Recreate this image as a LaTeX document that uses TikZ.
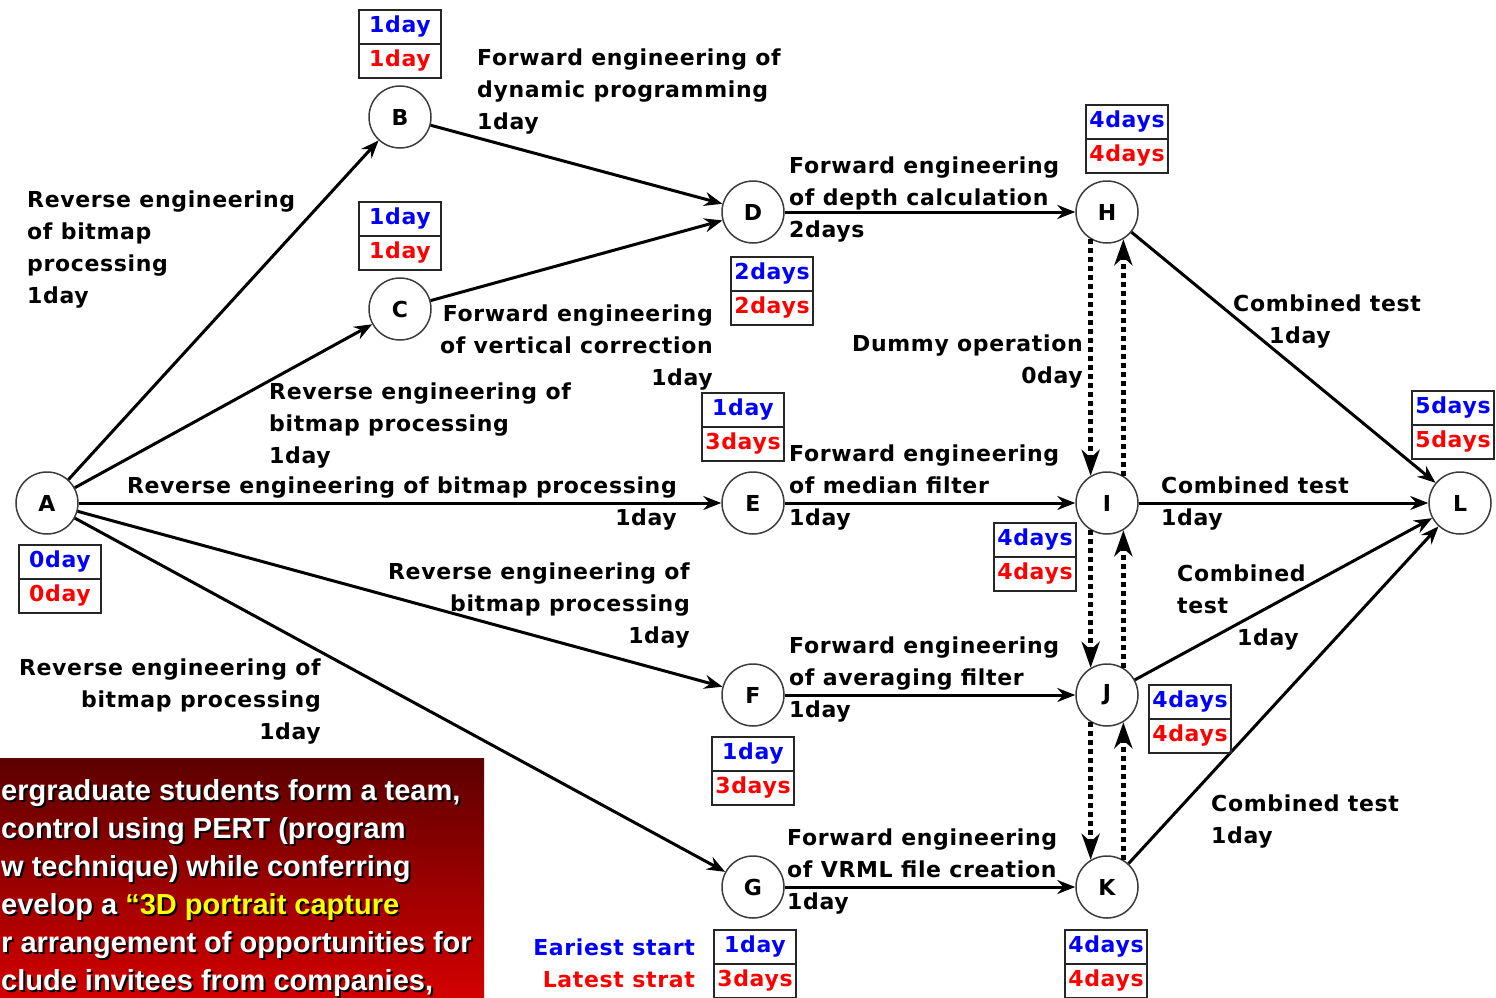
\documentclass[tikz,border=0pt]{standalone}
\usepackage{fontspec}
\usetikzlibrary{arrows.meta}
\newfontfamily\dfont{DejaVu Sans}[LetterSpace=3.0]
\newfontfamily\rfont{Liberation Sans}
\definecolor{eblue}{RGB}{0,0,255}
\definecolor{lred}{RGB}{255,0,0}
\definecolor{ylw}{RGB}{255,255,0}
\definecolor{dkred}{RGB}{92,0,0}
\definecolor{brred}{RGB}{212,0,0}
\definecolor{ring}{RGB}{60,60,60}
\newcommand\rtxt[1]{ergraduate students form a team,\\control using PERT (program\\w technique) while conferring\\evelop a \textcolor{#1}{“3D portrait capture}\\r arrangement of opportunities for\\clude invitees from companies,}
\begin{document}
\begin{tikzpicture}[x=1pt,y=-1pt,
  ev/.style={circle,draw=ring,line width=1.5pt,fill=white,minimum size=62pt,inner sep=0pt,font=\dfont\bfseries\fontsize{22}{22}\selectfont},
  lbl/.style={inner sep=0pt,font=\dfont\bfseries\fontsize{22}{32}\selectfont},
  cell/.style={draw=black!85,line width=1.6pt,minimum width=82pt,minimum height=34pt,inner sep=1pt,font=\dfont\bfseries\fontsize{22}{22}\selectfont},
  et/.style={cell,text=eblue},
  lt/.style={cell,text=lred},
  act/.style={line width=3pt,-{Stealth[length=18pt,width=14pt,inset=6pt]}},
  dum/.style={line width=5pt,dash pattern=on 5pt off 4pt,-{Stealth[length=26pt,width=18pt,inset=8pt]}},
  rtx/.style={inner sep=0pt,anchor=north west,align=left,font=\rfont\bfseries\fontsize{29}{38}\selectfont}
]
\useasboundingbox (0,0) rectangle (1496,998);

% red panel
\shade[top color=dkred,bottom color=brred] (0,758) rectangle (484,998);
\begin{scope}
\clip (0,758) rectangle (484,998);
\node[rtx,text=black] (redshadow) at (3,781) {\rtxt{black}};
\node[rtx,text=white] (redtext) at (1,779) {\rtxt{ylw}};
\end{scope}

% events
\node[ev] (A) at (47,503) {A};
\node[ev] (B) at (400,117) {B};
\node[ev] (C) at (400,309) {C};
\node[ev] (D) at (753,212) {D};
\node[ev] (E) at (753,503) {E};
\node[ev] (F) at (753,695) {F};
\node[ev] (G) at (753,887) {G};
\node[ev] (H) at (1107,212) {H};
\node[ev] (I) at (1107,503) {I};
\node[ev] (J) at (1107,695) {J};
\node[ev] (K) at (1107,887) {K};
\node[ev] (L) at (1460,503) {L};

% activities
\draw[act] (A) -- (B);
\draw[act] (A) -- (C);
\draw[act] (A) -- (E);
\draw[act] (A) -- (F);
\draw[act] (A) -- (G);
\draw[act] (B) -- (D);
\draw[act] (C) -- (D);
\draw[act] (D) -- (H);
\draw[act] (E) -- (I);
\draw[act] (F) -- (J);
\draw[act] (G) -- (K);
\draw[act] (H) -- (L);
\draw[act] (I) -- (L);
\draw[act] (J) -- (L);
\draw[act] (K) -- (L);

% dummies
\draw[dum] (H.239) -- (I.121);
\draw[dum] (I.59) -- (H.301);
\draw[dum] (I.239) -- (J.121);
\draw[dum] (J.59) -- (I.301);
\draw[dum] (J.239) -- (K.121);
\draw[dum] (K.59) -- (J.301);

% time boxes
\node[et] (Ae) at (60,562) {0day};   \node[lt] (Al) at (60,596) {0day};
\node[et] (Be) at (400,27) {1day};   \node[lt] (Bl) at (400,61) {1day};
\node[et] (Ce) at (400,219) {1day};  \node[lt] (Cl) at (400,253) {1day};
\node[et] (De) at (772,274) {2days}; \node[lt] (Dl) at (772,308) {2days};
\node[et] (Ee) at (743,410) {1day};  \node[lt] (El) at (743,444) {3days};
\node[et] (He) at (1127,122) {4days};\node[lt] (Hl) at (1127,156) {4days};
\node[et] (Ie) at (1035,540) {4days};\node[lt] (Il) at (1035,574) {4days};
\node[et] (Fe) at (753,754) {1day};  \node[lt] (Fl) at (753,788) {3days};
\node[et] (Je) at (1190,702) {4days};\node[lt] (Jl) at (1190,736) {4days};
\node[et] (Le) at (1453,408) {5days};\node[lt] (Ll) at (1453,442) {5days};
\node[et] (Ge) at (755,947) {1day};  \node[lt] (Gl) at (755,981) {3days};
\node[et] (Ke) at (1106,947) {4days};\node[lt] (Kl) at (1106,981) {4days};

% labels
\node[lbl,anchor=north west,align=left] (t1) at (477,49) {Forward engineering of\\dynamic programming\\1day};
\node[lbl,anchor=north west,align=left] (t2) at (27,191) {Reverse engineering\\of bitmap\\processing\\1day};
\node[lbl,anchor=north west,align=left] (t3) at (789,157) {Forward engineering\\of depth calculation\\2days};
\node[lbl,anchor=north east,align=right] (t4) at (713,305) {Forward engineering\\of vertical correction\\1day};
\node[lbl,anchor=north west,align=left] (t5) at (269,383) {Reverse engineering of\\bitmap processing\\1day};
\node[lbl,anchor=north east,align=right] (t6) at (677,477) {Reverse engineering of bitmap processing\\1day};
\node[lbl,anchor=north west,align=left] (t7) at (789,445) {Forward engineering\\of median filter\\1day};
\node[lbl,anchor=north east,align=right] (t8) at (1083,335) {Dummy operation\\0day};
\node[lbl,anchor=north west,align=left] (t9) at (1233,295) {Combined test\\\hspace*{36pt}1day};
\node[lbl,anchor=north west,align=left] (t10) at (1161,477) {Combined test\\1day};
\node[lbl,anchor=north west,align=left] (t11) at (1177,565) {Combined\\test\\\hspace*{60pt}1day};
\node[lbl,anchor=north east,align=right] (t12) at (690,563) {Reverse engineering of\\bitmap processing\\1day};
\node[lbl,anchor=north west,align=left] (t13) at (789,637) {Forward engineering\\of averaging filter\\1day};
\node[lbl,anchor=north east,align=right] (t14) at (321,659) {Reverse engineering of\\bitmap processing\\1day};
\node[lbl,anchor=north west,align=left] (t15) at (1211,795) {Combined test\\1day};
\node[lbl,anchor=north west,align=left] (t16) at (787,829) {Forward engineering\\of VRML file creation\\1day};
\node[lbl,anchor=north east,align=right] (t17) at (695,939) {\textcolor{eblue}{Eariest start}\\\textcolor{lred}{Latest strat}};
\end{tikzpicture}
\end{document}
